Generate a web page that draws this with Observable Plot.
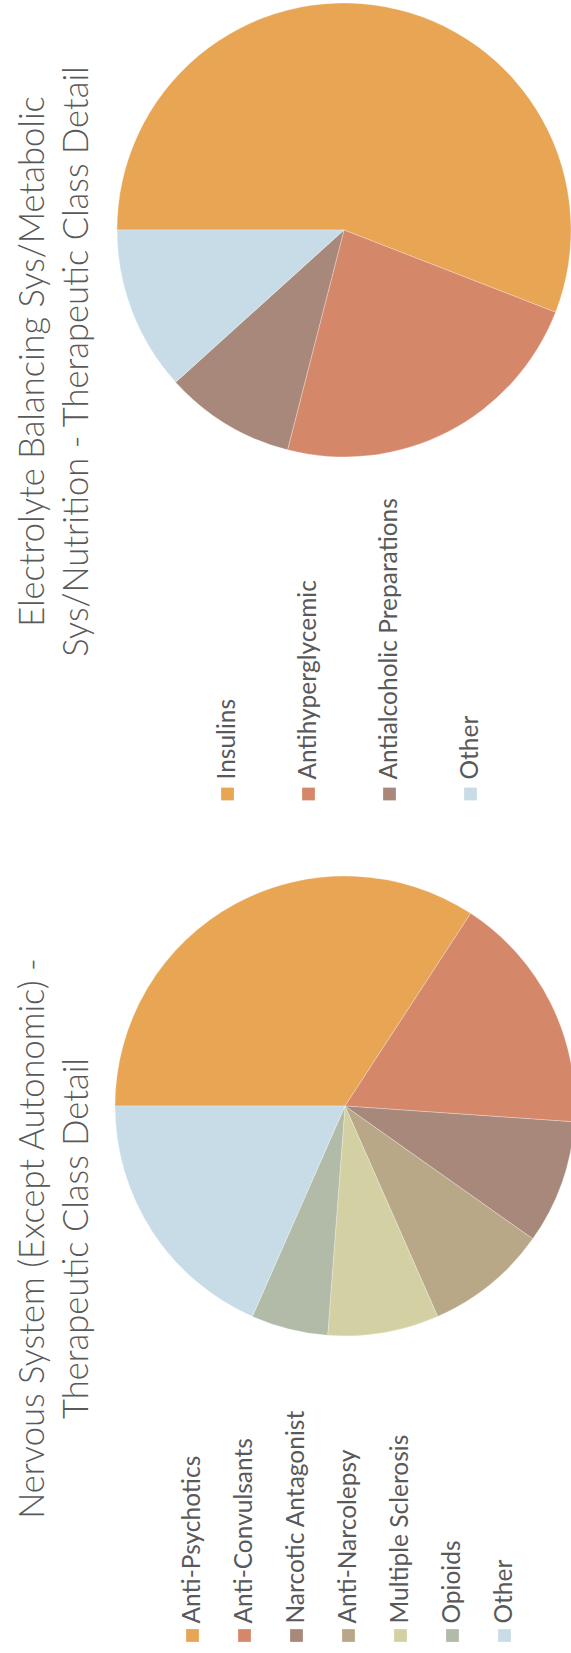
<!DOCTYPE html>
<html><head><meta charset="utf-8">
<script src="https://cdn.jsdelivr.net/npm/d3@7"></script>
<script src="https://cdn.jsdelivr.net/npm/@observablehq/plot@0.6"></script>
<style>
html,body{margin:0;padding:0;background:#fff;overflow:hidden;}
#rot{position:absolute;left:0;top:0;width:1653px;height:571px;transform-origin:0 0;transform:translate(0,1653px) rotate(-90deg);}
#rot svg{position:absolute;top:0;}
</style></head><body><div id="rot"></div>
<script>
// Panel 1 (left in landscape): Nervous System
const nsTitle = "Nervous System (Except Autonomic) -\nTherapeutic Class Detail";
const nsCategories = ["Anti-Psychotics","Anti-Convulsants","Narcotic Antagonist","Anti-Narcolepsy","Multiple Sclerosis","Opioids","Other"];
const nsValues = [34.2, 16.9, 8.7, 8.6, 7.8, 5.4, 18.4];
const nsColors = ["#E8A553","#D5876A","#A8887A","#B9A887","#D3D1A3","#B1BBA8","#C8DCE8"];

// Panel 2 (right in landscape): Electrolyte Balancing
const elTitle = "Electrolyte Balancing Sys/Metabolic\nSys/Nutrition - Therapeutic Class Detail";
const elCategories = ["Insulins","Antihyperglycemic","Antialcoholic Preparations","Other"];
const elValues = [55.9, 23.1, 9.3, 11.7];
const elColors = ["#E8A553","#D5876A","#A8887A","#C8DCE8"];

const FONT = "Lato, 'Open Sans', sans-serif";
const TEXT = "#595959";

function piePanel({title, categories, values, colors, width, titleX, pieX, pieY, radius, legendY0, legendY1, swatchX, labelX}) {
  const rows = categories.map((name, i) => ({name, value: values[i]}));
  const pieSlices = (index, scales) => {
    const arcs = d3.pie().sort(null).value(d => d.value)(rows);
    const arc = d3.arc().innerRadius(0).outerRadius(radius);
    const g = d3.create("svg:g").attr("transform", `translate(${pieX},${pieY})`);
    g.selectAll("path").data(arcs).join("path")
      .attr("d", arc)
      .attr("fill", d => scales.color(d.data.name))
      .attr("stroke", "#fff").attr("stroke-opacity", 0.35).attr("stroke-width", 0.8);
    return g.node();
  };
  return Plot.plot({
    width, height: 571, margin: 0,
    style: {fontFamily: FONT, background: "transparent", overflow: "visible"},
    y: {type: "point", domain: categories, range: [legendY0, legendY1], axis: null},
    color: {domain: categories, range: colors},
    marks: [
      pieSlices,
      Plot.dot(rows, {y: "name", fill: "name", symbol: "square", r: 7.2, frameAnchor: "left", dx: swatchX}),
      Plot.text(rows, {y: "name", text: "name", frameAnchor: "left", dx: labelX, textAnchor: "start", fontSize: 24.5, fill: TEXT}),
      Plot.text([title], {frameAnchor: "top-left", dx: titleX, dy: 87, text: d => d, textAnchor: "middle", lineAnchor: "bottom", lineHeight: 44 / 34.5, fontSize: 34.5, fontWeight: 300, fill: TEXT})
    ]
  });
}

const left = piePanel({
  title: nsTitle, categories: nsCategories, values: nsValues, colors: nsColors,
  width: 826, titleX: 414, pieX: 547, pieY: 345, radius: 230,
  legendY0: 163, legendY1: 533, swatchX: 17, labelX: 29
});
left.style.left = "0px";

const right = piePanel({
  title: elTitle, categories: elCategories, values: elValues, colors: elColors,
  width: 827, titleX: 465, pieX: 597, pieY: 344, radius: 227,
  legendY0: 186, legendY1: 511, swatchX: 32.5, labelX: 47
});
right.style.left = "826px";

const host = document.getElementById("rot");
host.appendChild(left);
host.appendChild(right);
</script>
</body></html>
